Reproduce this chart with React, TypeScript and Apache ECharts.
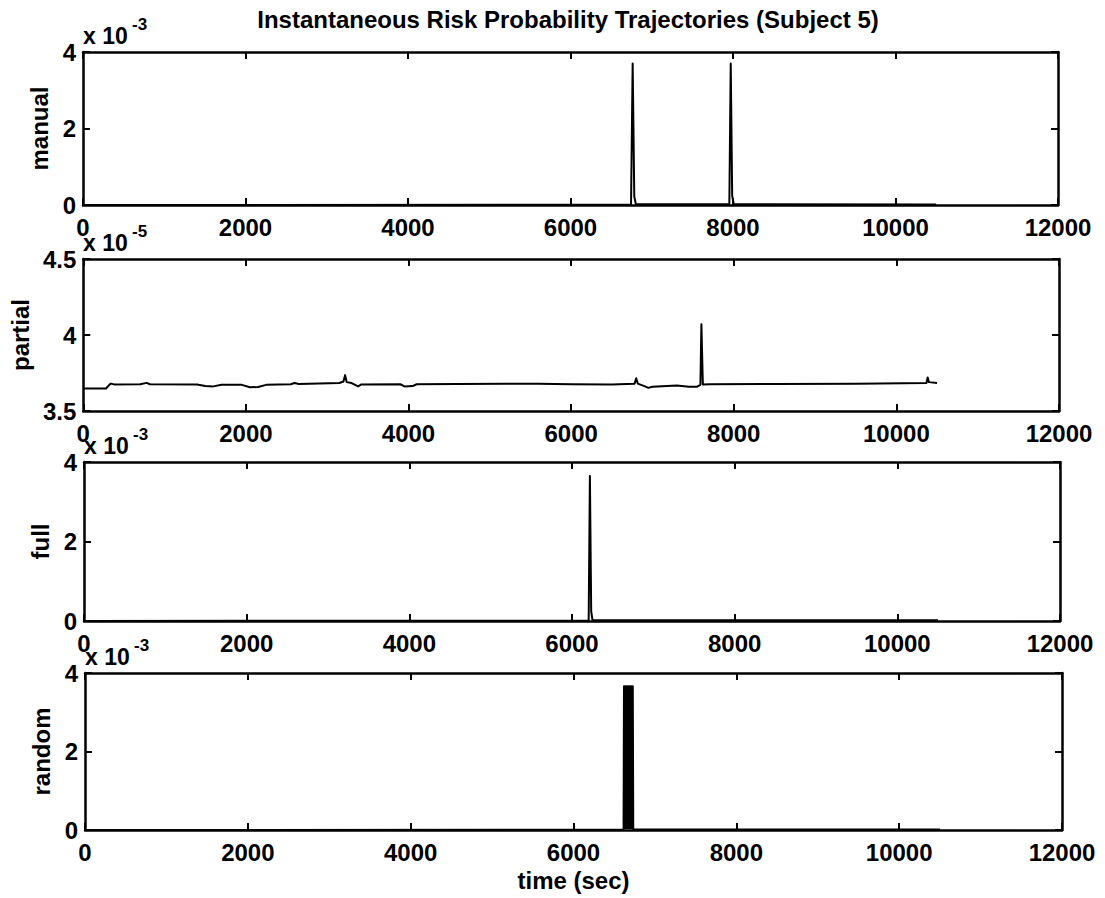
import React, { useEffect, useRef } from "react";
import * as echarts from "echarts";

// time (sec) vs risk probability; values in units of the axis multiplier
const X_MAX = 12000;
const X_INTERVAL = 2000;

const panelNames = ["manual", "partial", "full", "random"];
const panelExponents = ["-3", "-5", "-3", "-3"];
const yMins = [0, 3.5, 0, 0];
const yMaxs = [4, 4.5, 4, 4];
const yIntervals = [2, 0.5, 2, 2];

// manual (x 10^-3)
const manual: [number, number][] = [
  [0, 0], [6745, 0.01], [6765, 3.7], [6785, 0.22], [6805, 0.02],
  [7955, 0.02], [7972, 3.7], [7990, 0.24], [8010, 0.02], [10500, 0.01],
];

// partial (x 10^-5)
const partial: [number, number][] = [
  [0, 3.648], [280, 3.648], [320, 3.672], [340, 3.68], [380, 3.675], [700, 3.676],
  [780, 3.685], [820, 3.676], [1400, 3.674], [1500, 3.664], [1600, 3.662],
  [1700, 3.672], [1950, 3.672], [2050, 3.656], [2150, 3.658], [2250, 3.672],
  [2550, 3.676], [2600, 3.684], [2650, 3.678], [3150, 3.684], [3200, 3.694],
  [3220, 3.736], [3240, 3.69], [3300, 3.684], [3380, 3.662], [3420, 3.675],
  [3900, 3.676], [3950, 3.662], [4050, 3.664], [4100, 3.676], [4600, 3.678],
  [5200, 3.68], [5600, 3.68], [6000, 3.676], [6500, 3.674], [6780, 3.68],
  [6800, 3.715], [6820, 3.68], [6900, 3.664], [6950, 3.652], [7000, 3.66],
  [7300, 3.668], [7450, 3.66], [7550, 3.66], [7590, 3.672], [7602, 4.07],
  [7620, 3.674], [7700, 3.676], [8500, 3.678], [9500, 3.68], [10370, 3.684],
  [10385, 3.72], [10400, 3.69], [10500, 3.684],
];

// full (x 10^-3)
const full: [number, number][] = [
  [0, 0], [6205, 0.01], [6220, 3.65], [6236, 0.24], [6252, 0.02], [10500, 0.02],
];

// random (x 10^-3)
const random: [number, number][] = [
  [0, 0], [6615, 0.01], [6620, 3.66], [6626, 0.05], [6632, 3.66], [6638, 0.05],
  [6644, 3.66], [6650, 0.05], [6656, 3.66], [6662, 0.05], [6668, 3.66],
  [6674, 0.05], [6680, 3.66], [6686, 0.05], [6692, 3.66], [6698, 0.05],
  [6704, 3.66], [6710, 0.05], [6716, 3.66], [6722, 0.05], [6728, 3.66],
  [6734, 0.02], [10500, 0.01],
];

const seriesData = [manual, partial, full, random];

const TITLE = "Instantaneous Risk Probability Trajectories (Subject 5)";
const X_NAME = "time (sec)";

const FONT = "'Liberation Sans', Arial, Helvetica, sans-serif";

const grids = [
  { left: 83, top: 52, width: 975, height: 153 },
  { left: 83, top: 259, width: 976, height: 152 },
  { left: 84, top: 462, width: 976, height: 159 },
  { left: 85, top: 673, width: 977, height: 157 },
];
const nameGaps = [26, 45, 28, 26];

export default function App() {
  const ref = useRef<HTMLDivElement>(null);
  useEffect(() => {
    if (!ref.current) return;
    const chart = echarts.init(ref.current, undefined, { renderer: "svg" });
    const axisLine = { show: true, onZero: false, lineStyle: { color: "#000", width: 2.5 } };
    const tick = { show: true, inside: true, length: 7, lineStyle: { color: "#000", width: 2 } };
    const labelStyle = { color: "#000", fontSize: 24, fontWeight: "bold" as const, fontFamily: FONT };
    const plain = (v: number) => String(v);

    const xAxes: any[] = [];
    const yAxes: any[] = [];
    const series: any[] = [];
    const graphics: any[] = [];

    grids.forEach((g, i) => {
      xAxes.push({
        type: "value", gridIndex: i, position: "bottom", min: 0, max: X_MAX, interval: X_INTERVAL,
        axisLine, axisTick: tick, splitLine: { show: false },
        axisLabel: { ...labelStyle, margin: 10, showMinLabel: true, showMaxLabel: true, formatter: plain },
        name: i === 3 ? X_NAME : "", nameLocation: "middle", nameGap: 38,
        nameTextStyle: { ...labelStyle },
      });
      xAxes.push({
        type: "value", gridIndex: i, position: "top", min: 0, max: X_MAX, interval: X_INTERVAL,
        axisLine, axisTick: tick, splitLine: { show: false }, axisLabel: { show: false },
      });
      yAxes.push({
        type: "value", gridIndex: i, position: "left", min: yMins[i], max: yMaxs[i], interval: yIntervals[i],
        axisLine, axisTick: tick, splitLine: { show: false },
        axisLabel: { ...labelStyle, margin: 7, formatter: plain },
        name: panelNames[i], nameLocation: "middle", nameGap: nameGaps[i],
        nameTextStyle: { ...labelStyle },
      });
      yAxes.push({
        type: "value", gridIndex: i, position: "right", min: yMins[i], max: yMaxs[i], interval: yIntervals[i],
        axisLine, axisTick: tick, splitLine: { show: false }, axisLabel: { show: false },
      });
      series.push({
        type: "line", xAxisIndex: 2 * i, yAxisIndex: 2 * i, data: seriesData[i],
        showSymbol: false, symbol: "none",
        lineStyle: { color: "#000", width: 2, join: "round" },
      });
      graphics.push({
        type: "text", x: g.left, y: g.top - 16,
        style: { text: "x 10", font: `bold 23px ${FONT}`, fill: "#000", textAlign: "left", textVerticalAlign: "middle" },
      });
      graphics.push({
        type: "text", x: g.left + 49, y: g.top - 28,
        style: { text: panelExponents[i], font: `bold 17px ${FONT}`, fill: "#000", textAlign: "left", textVerticalAlign: "middle" },
      });
    });

    graphics.push({
      type: "text", x: 568, y: 19,
      style: { text: TITLE, font: `bold 24px ${FONT}`, fill: "#000", textAlign: "center", textVerticalAlign: "middle" },
    });

    chart.setOption({
      animation: false,
      backgroundColor: "#fff",
      grid: grids.map((g) => ({ ...g, containLabel: false })),
      xAxis: xAxes,
      yAxis: yAxes,
      series,
      graphic: graphics,
    });
    return () => chart.dispose();
  }, []);
  return (
    <div
      ref={ref}
      style={{ position: "absolute", left: 0, top: 0, width: 1105, height: 898, background: "#fff" }}
    />
  );
}
